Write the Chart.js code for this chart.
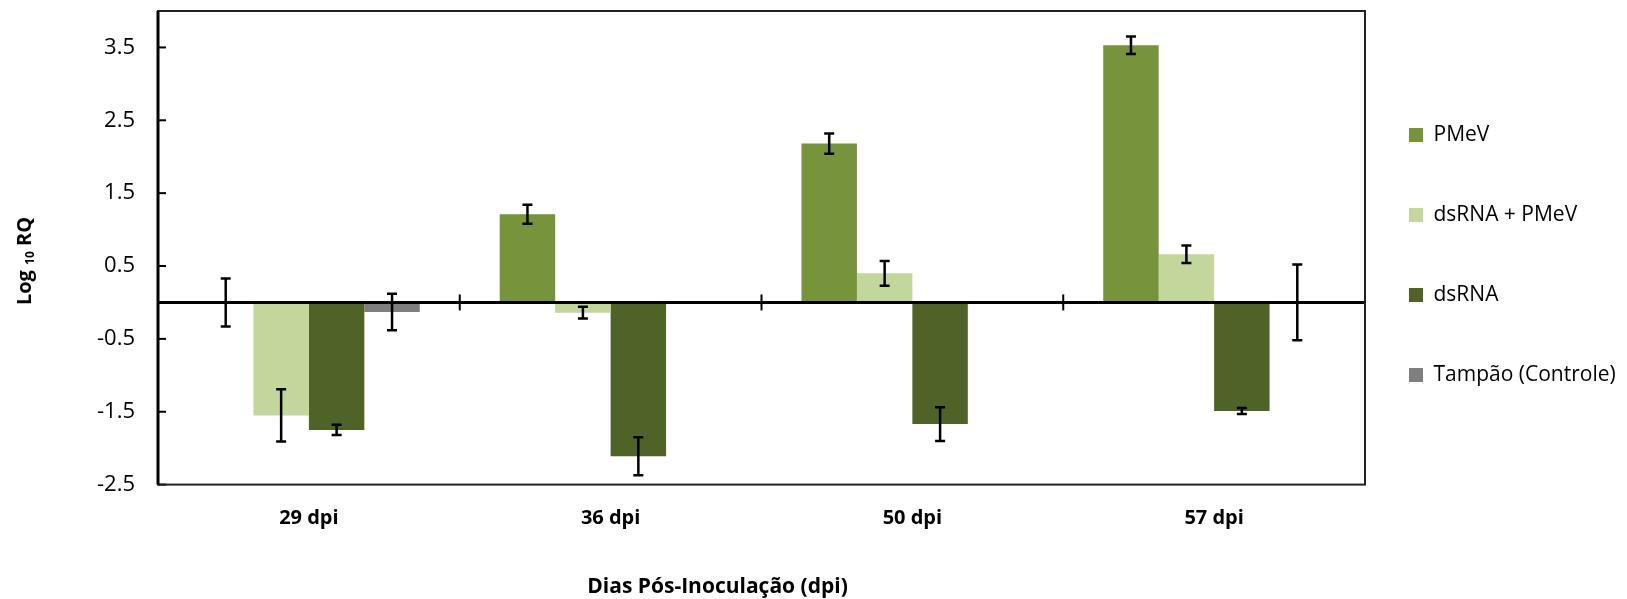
<!DOCTYPE html>
<html>
<head>
<meta charset="utf-8">
<script src="https://cdn.jsdelivr.net/npm/chart.js@4"></script>
<style>
  html, body { margin: 0; padding: 0; background: #fff; }
  #wrap { position: relative; width: 1627px; height: 599px; }
</style>
</head>
<body>
<div id="wrap"><canvas id="chart-rq"></canvas></div>
<script>
// Log10 RQ por dia pós-inoculação
const categories = ['29 dpi', '36 dpi', '50 dpi', '57 dpi'];
const seriesNames = ['PMeV', 'dsRNA + PMeV', 'dsRNA', 'Tampão (Controle)'];

const pmev = [0, 1.21, 2.18, 3.53];
const pmevErr = [0.33, 0.13, 0.14, 0.12];
const dsrnaPmev = [-1.55, -0.14, 0.40, 0.66];
const dsrnaPmevErr = [0.36, 0.08, 0.17, 0.12];
const dsrna = [-1.75, -2.11, -1.67, -1.49];
const dsrnaErr = [0.07, 0.26, 0.23, 0.04];
const tampao = [-0.13, 0, 0, 0];
const tampaoErr = [0.25, null, null, 0.52];

const yTicks = [-2.5, -1.5, -0.5, 0.5, 1.5, 2.5, 3.5];
const colors = ['#77933C', '#C3D69B', '#4F6228', '#7F7F7F'];

const FONT = '"Open Sans", "Noto Sans", sans-serif';

// eixo zero, marcas, barras de erro e moldura
const errorBars = {
  id: 'errorBars',
  afterDatasetsDraw(chart) {
    const { ctx, chartArea: a, scales: { x, y } } = chart;
    const y0 = y.getPixelForValue(0);
    ctx.save();
    ctx.strokeStyle = '#000';

    ctx.lineWidth = 3;
    ctx.beginPath();
    ctx.moveTo(a.left, y0);
    ctx.lineTo(a.right, y0);
    ctx.stroke();

    ctx.lineWidth = 2;
    for (let k = 0; k <= categories.length; k++) {
      const px = x.getPixelForValue(k - 0.5);
      ctx.beginPath();
      ctx.moveTo(px, y0 - 8);
      ctx.lineTo(px, y0 + 8);
      ctx.stroke();
    }

    y.ticks.forEach(t => {
      const py = y.getPixelForValue(t.value);
      ctx.beginPath();
      ctx.moveTo(a.left, py);
      ctx.lineTo(a.left + 8, py);
      ctx.stroke();
    });

    ctx.lineWidth = 2.5;
    chart.data.datasets.forEach((ds, i) => {
      const meta = chart.getDatasetMeta(i);
      meta.data.forEach((bar, j) => {
        const e = ds.errors[j];
        if (e == null) return;
        const v = ds.data[j];
        const top = y.getPixelForValue(v + e);
        const bot = y.getPixelForValue(v - e);
        ctx.beginPath();
        ctx.moveTo(bar.x, top); ctx.lineTo(bar.x, bot);
        ctx.moveTo(bar.x - 5, top); ctx.lineTo(bar.x + 5, top);
        ctx.moveTo(bar.x - 5, bot); ctx.lineTo(bar.x + 5, bot);
        ctx.stroke();
      });
    });

    ctx.lineWidth = 2;
    ctx.strokeStyle = '#222';
    ctx.strokeRect(a.left, a.top, a.right - a.left, a.bottom - a.top);
    ctx.strokeStyle = '#000';
    ctx.lineWidth = 3;
    ctx.beginPath();
    ctx.moveTo(a.left, a.top);
    ctx.lineTo(a.left, a.bottom);
    ctx.stroke();
    ctx.restore();
  },
  afterDraw(chart) {
    const { ctx, chartArea: a } = chart;
    ctx.save();
    ctx.fillStyle = '#000';
    // título do eixo x
    ctx.font = 'bold 21px ' + FONT;
    ctx.textAlign = 'center';
    ctx.textBaseline = 'middle';
    ctx.fillText('Dias Pós-Inoculação (dpi)', (a.left + a.right) / 2 - 44, 587);

    // título do eixo y com subscrito
    ctx.translate(31, 261);
    ctx.rotate(-Math.PI / 2);
    ctx.textAlign = 'left';
    ctx.textBaseline = 'alphabetic';
    const big = 'bold 20px ' + FONT, small = 'bold 12px ' + FONT;
    ctx.font = big;
    const w1 = ctx.measureText('Log ').width;
    const w3 = ctx.measureText(' RQ').width;
    ctx.font = small;
    const w2 = ctx.measureText('10').width;
    let cx = -(w1 + w2 + w3) / 2;
    ctx.font = big;
    ctx.fillText('Log ', cx, 0);
    cx += w1;
    ctx.font = small;
    ctx.fillText('10', cx, 3);
    cx += w2;
    ctx.font = big;
    ctx.fillText(' RQ', cx, 0);
    ctx.restore();
  }
};

// largura fixa da legenda
const legendFit = {
  id: 'legendFit',
  beforeLayout(chart) {
    const lg = chart.legend;
    if (lg && !lg._patched) {
      const fit = lg.fit;
      lg.fit = function () { fit.call(this); this.width = 262; };
      lg._patched = true;
    }
  },
  afterLayout(chart) {
    const lg = chart.legend;
    lg.left -= 15;
    lg.top -= 50; lg.bottom -= 50;
  }
};

const seriesValues = [pmev, dsrnaPmev, dsrna, tampao];
const seriesErrors = [pmevErr, dsrnaPmevErr, dsrnaErr, tampaoErr];

const ctx = document.getElementById('chart-rq').getContext('2d');
new Chart(ctx, {
  type: 'bar',
  data: {
    labels: categories,
    datasets: seriesNames.map((name, i) => ({
      label: name,
      data: seriesValues[i],
      errors: seriesErrors[i],
      backgroundColor: colors[i],
      borderWidth: 0,
      categoryPercentage: 0.735,
      barPercentage: 1.0
    }))
  },
  options: {
    responsive: true,
    maintainAspectRatio: false,
    animation: false,
    layout: { padding: { top: 11, right: 0, bottom: 0, left: 0 } },
    plugins: {
      tooltip: { enabled: false },
      legend: {
        position: 'right',
        labels: {
          boxWidth: 14,
          boxHeight: 14,
          padding: 59,
          color: '#000',
          font: { family: FONT, size: 21 }
        }
      }
    },
    scales: {
      x: {
        grid: { display: false, drawTicks: false },
        border: { display: false },
        ticks: { color: '#000', padding: 22, font: { family: FONT, size: 20, weight: 'bold' } },
        afterFit(scale) { scale.height = 114.4; scale.paddingLeft = 0; scale.paddingRight = 0; }
      },
      y: {
        min: -2.5,
        max: 4,
        grid: { display: false, drawTicks: false },
        border: { display: false },
        afterBuildTicks(scale) { scale.ticks = yTicks.map(v => ({ value: v })); },
        ticks: {
          color: '#000',
          padding: 23,
          font: { family: FONT, size: 22 },
          callback: v => v.toFixed(1)
        },
        afterFit(scale) { scale.width = 158; scale.paddingTop = 0; scale.paddingBottom = 0; }
      }
    }
  },
  plugins: [errorBars, legendFit]
});
</script>
</body>
</html>
